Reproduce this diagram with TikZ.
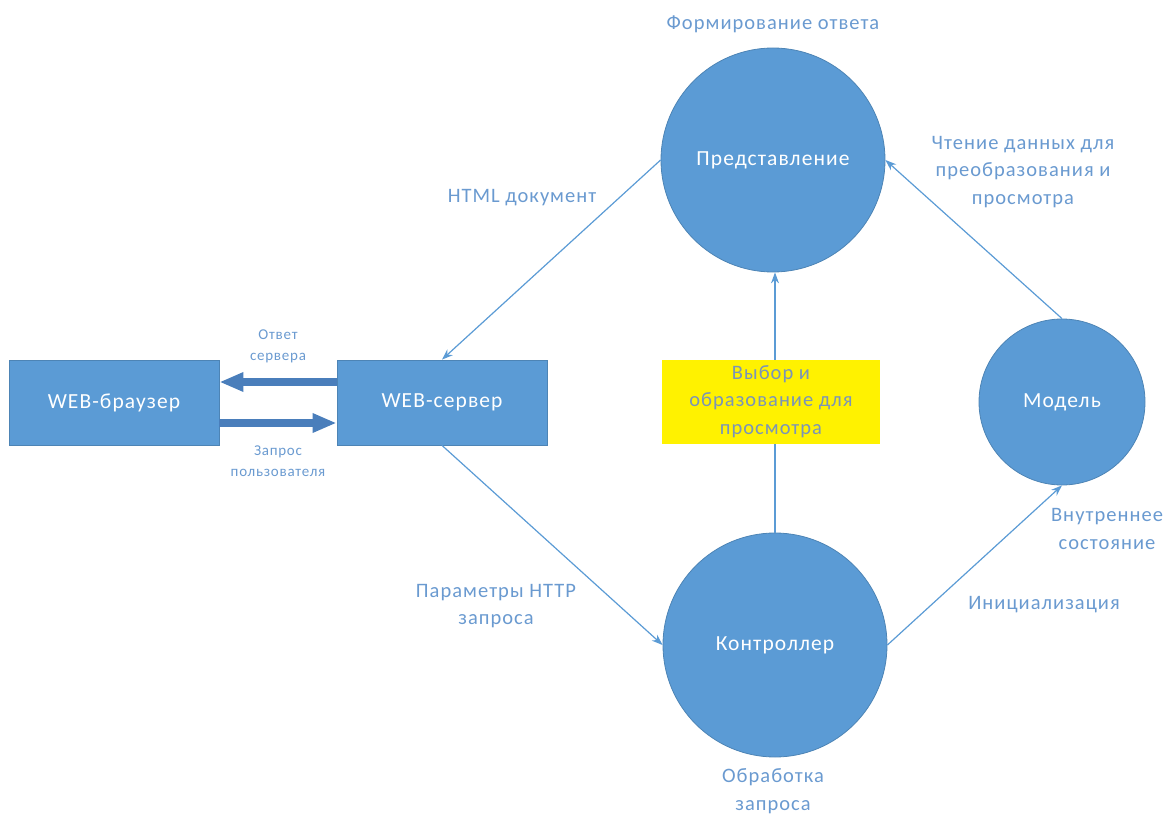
\documentclass[tikz,border=0pt]{standalone}
\usepackage{fontspec}
\setmainfont{Carlito}[LetterSpace=5]
\usetikzlibrary{arrows.meta}
\definecolor{ofblue}{HTML}{5B9BD5}
\definecolor{ofdark}{HTML}{4A7EBB}
\definecolor{lbl}{HTML}{6A9AD0}
\definecolor{ytext}{HTML}{7A94B8}
\tikzset{
  boxnode/.style={draw=ofblue!85!black, line width=0.8pt, fill=ofblue, text=white, minimum width=210pt, minimum height=85pt, inner sep=0pt, font=\fontsize{21.5}{24}\selectfont},
  circnode/.style={circle, draw=ofblue!85!black, line width=0.8pt, fill=ofblue, text=white, inner sep=0pt, font=\fontsize{21.5}{24}\selectfont},
  lab/.style={text=lbl, align=center, font=\fontsize{20.5}{27.5}\selectfont},
  smalllab/.style={text=lbl, align=center, font=\fontsize{15}{21}\selectfont},
  conn/.style={draw=ofblue, line width=1.2pt, -{Stealth[length=11pt,width=8pt]}},
  thick arrow/.style={draw=ofdark, line width=8pt, -{Triangle[length=24pt,width=18pt]}},
}
\begin{document}
\begin{tikzpicture}[x=1pt,y=-1pt]
\useasboundingbox (0,0) rectangle (1168,816);
% nodes
\node[boxnode] (browser) at (114,402.5) {WEB-браузер};
\node[boxnode] (server) at (442,402.5) {WEB-сервер};
\node[circnode, minimum size=224pt] (view) at (773,160) {Представление};
\node[circnode, minimum size=224pt] (ctrl) at (775,645) {Контроллер};
\node[circnode, minimum size=166pt] (model) at (1062,402) {Модель};
% vertical connector behind yellow box
\draw[conn] (ctrl.north) -- (ctrl.north |- view.south);
\node[fill=yellow, text=ytext, minimum width=218pt, minimum height=84pt, align=center, inner sep=0pt, font=\fontsize{20.5}{27.5}\selectfont] (choice) at (771,401.5) {Выбор и\\образование для\\просмотра};
% thick arrows
\draw[thick arrow] (server.west |- 0,382) -- (browser.east |- 0,382);
\draw[thick arrow] (browser.east |- 0,423) -- (server.west |- 0,423);
% connectors
\draw[conn] (view.west) -- (server.north);
\draw[conn] (server.south) -- (ctrl.west);
\draw[conn] (ctrl.east) -- (model.south);
\draw[conn] (model.north) -- (view.east);
% labels
\node[lab] (l1) at (773,24) {Формирование ответа};
\node[lab] (l2) at (522,198) {HTML документ};
\node[lab] (l3) at (1023,172) {Чтение данных для\\преобразования и\\просмотра};
\node[smalllab] (l4) at (278,346) {Ответ\\сервера};
\node[smalllab] (l5) at (278,461) {Запрос\\пользователя};
\node[lab] (l6) at (496,606) {Параметры HTTP\\запроса};
\node[lab] (l7) at (1107,529) {Внутреннее\\состояние};
\node[lab] (l8) at (1044,605) {Инициализация};
\node[lab] (l9) at (773,791) {Обработка\\запроса};
\end{tikzpicture}
\end{document}
